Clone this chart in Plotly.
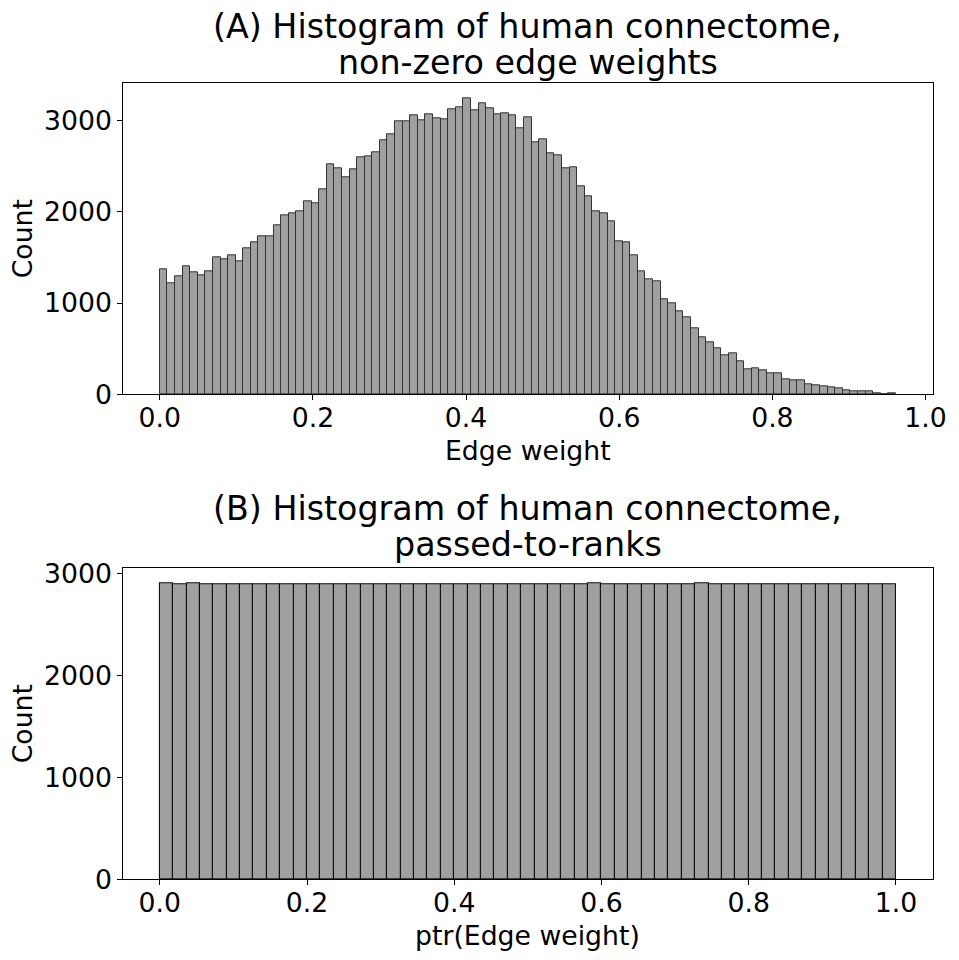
import numpy as np
import plotly.graph_objects as go

# ---------------- data ----------------
# Panel A: histogram of non-zero edge weights (97 equal-width bins from 0 to ~0.9613)
A_BIN_START = 0.0
A_BIN_END = 0.9613
A_COUNTS = [
    1367, 1214, 1290, 1400, 1334, 1301, 1345, 1498, 1476, 1520,
    1455, 1597, 1662, 1728, 1728, 1848, 1958, 1980, 2012, 2111,
    2100, 2253, 2526, 2483, 2384, 2472, 2603, 2614, 2658, 2789,
    2855, 2997, 2997, 3062, 3008, 3073, 3030, 3019, 3128, 3150,
    3248, 3117, 3194, 3139, 3073, 3084, 3062, 2920, 3040, 2767,
    2800, 2647, 2625, 2483, 2494, 2286, 2176, 2012, 1980, 1892,
    1673, 1662, 1520, 1345, 1258, 1236, 1039, 995, 908, 842,
    722, 623, 569, 503, 427, 448, 361, 273, 284, 262,
    230, 230, 164, 153, 153, 109, 98, 87, 77, 66,
    44, 33, 33, 33, 11, 0, 11,
]

# Panel B: histogram of passed-to-ranks weights (55 equal-width bins from 0 to 1)
B_BIN_START = 0.0
B_BIN_END = 1.0
B_COUNTS = [
    2903, 2893, 2903, 2893, 2893, 2893, 2893, 2893, 2893, 2893,
    2893, 2893, 2893, 2893, 2893, 2893, 2893, 2893, 2893, 2893,
    2893, 2893, 2893, 2893, 2893, 2893, 2893, 2893, 2893, 2893,
    2893, 2893, 2903, 2893, 2893, 2893, 2893, 2893, 2893, 2893,
    2903, 2893, 2893, 2893, 2893, 2893, 2893, 2893, 2893, 2893,
    2893, 2893, 2893, 2893, 2893,
]

X_TICKS = [0.0, 0.2, 0.4, 0.6, 0.8, 1.0]
X_TICK_LABELS = ["0.0", "0.2", "0.4", "0.6", "0.8", "1.0"]
Y_TICKS = [0, 1000, 2000, 3000]
Y_TICK_LABELS = ["0", "1000", "2000", "3000"]

TITLE_A = ["(A) Histogram of human connectome,", "non-zero edge weights"]
TITLE_B = ["(B) Histogram of human connectome,", "passed-to-ranks"]
XLABEL_A = "Edge weight"
XLABEL_B = "ptr(Edge weight)"
YLABEL = "Count"

# ---------------- layout helpers ----------------
# The page body has an 8px margin, so the figure is drawn 8px in from the top-left.
OFF = 8
W, H = 959 - OFF, 960 - OFF
FONT = "DejaVu Sans"
TICK_SIZE = 26.7
TITLE_SIZE = 33.3
LABEL_SIZE = 26.7


def px_x(p):
    return (p - OFF) / W


def px_y(p):
    return 1 - (p - OFF) / H


def centers_and_width(start, end, n):
    edges = np.linspace(start, end, n + 1)
    return (edges[:-1] + edges[1:]) / 2, edges[1] - edges[0]


xa, wa = centers_and_width(A_BIN_START, A_BIN_END, len(A_COUNTS))
xb, wb = centers_and_width(B_BIN_START, B_BIN_END, len(B_COUNTS))

fig = go.Figure()
fig.add_trace(go.Bar(
    x=xa, y=A_COUNTS, width=wa, xaxis="x", yaxis="y",
    marker=dict(color="#a0a0a0", line=dict(color="#333333", width=1)),
    showlegend=False,
))
fig.add_trace(go.Bar(
    x=xb, y=B_COUNTS, width=wb, xaxis="x2", yaxis="y2",
    marker=dict(color="#a0a0a0", line=dict(color="#111111", width=1.1)),
    showlegend=False,
))

x_dom = [px_x(123), px_x(932.7)]
ya_dom = [px_y(394.3), px_y(83.3)]
yb_dom = [px_y(879.3), px_y(568.3)]

a_margin = (A_BIN_END - A_BIN_START) * 0.05
b_margin = (B_BIN_END - B_BIN_START) * 0.05

axis_common = dict(
    showline=True, linecolor="black", linewidth=1.1, mirror=True,
    ticks="outside", ticklen=4.7, tickwidth=1.1, tickcolor="black",
    showgrid=False, zeroline=False, automargin=False,
    tickfont=dict(family=FONT, size=TICK_SIZE, color="black"),
)
x_extra = dict(ticklabelstandoff=-5)

fig.update_layout(
    width=W, height=H,
    margin=dict(l=0, r=0, t=0, b=0, autoexpand=False),
    paper_bgcolor="white", plot_bgcolor="white",
    bargap=0,
    font=dict(family=FONT, color="black"),
    xaxis=dict(domain=x_dom, anchor="y",
               range=[A_BIN_START - a_margin, A_BIN_END + a_margin],
               tickvals=X_TICKS, ticktext=X_TICK_LABELS, **axis_common, **x_extra),
    yaxis=dict(domain=ya_dom, anchor="x",
               range=[0, max(A_COUNTS) * 1.05],
               tickvals=Y_TICKS, ticktext=Y_TICK_LABELS, **axis_common),
    xaxis2=dict(domain=x_dom, anchor="y2",
                range=[B_BIN_START - b_margin, B_BIN_END + b_margin],
                tickvals=X_TICKS, ticktext=X_TICK_LABELS, **axis_common, **x_extra),
    yaxis2=dict(domain=yb_dom, anchor="x2",
                range=[0, max(B_COUNTS) * 1.05],
                tickvals=Y_TICKS, ticktext=Y_TICK_LABELS, **axis_common),
)

cx = (123 + 932.7) / 2


def add_text(text, xpx, ypx, size, angle=0):
    fig.add_annotation(
        text=text, x=px_x(xpx), y=px_y(ypx), xref="paper", yref="paper",
        xanchor="center", yanchor="middle", showarrow=False, textangle=angle,
        borderpad=0,
        font=dict(family=FONT, size=size, color="black"),
    )


add_text(TITLE_A[0], cx, 26.5, TITLE_SIZE)
add_text(TITLE_A[1], cx, 62.4, TITLE_SIZE)
add_text(TITLE_B[0], cx, 508.5, TITLE_SIZE)
add_text(TITLE_B[1], cx, 544.5, TITLE_SIZE)
add_text(XLABEL_A, cx, 450.5, LABEL_SIZE)
add_text(XLABEL_B, cx, 935.5, LABEL_SIZE)
add_text(YLABEL, 22.5, (83.3 + 394.3) / 2, LABEL_SIZE, -90)
add_text(YLABEL, 22.5, (568.3 + 879.3) / 2, LABEL_SIZE, -90)

fig.write_html("out.html")
